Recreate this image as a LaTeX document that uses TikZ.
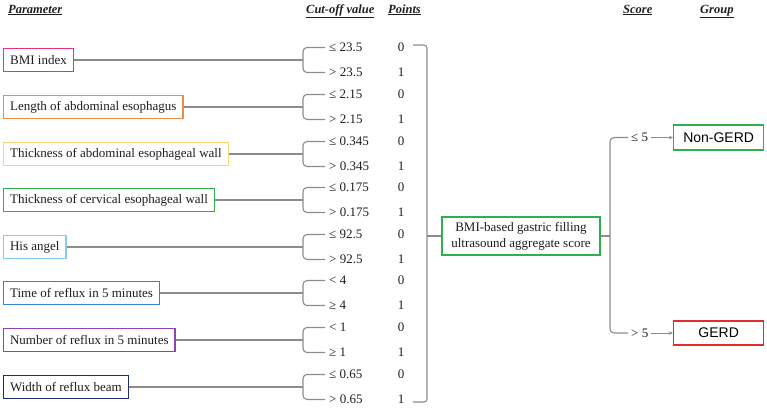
\documentclass[tikz,border=0pt]{standalone}
\usepackage{fontspec}
\setmainfont{Liberation Serif}
\newfontfamily\arialf{Liberation Sans}
\usetikzlibrary{arrows.meta}
\definecolor{pinkc}{HTML}{E6337F}
\definecolor{orangec}{HTML}{EE8A45}
\definecolor{yellowc}{HTML}{F5D77A}
\definecolor{greenc}{HTML}{2BB24C}
\definecolor{lightbluec}{HTML}{86CDEB}
\definecolor{bluec}{HTML}{2F86D0}
\definecolor{purplec}{HTML}{9143B5}
\definecolor{navyc}{HTML}{1F2D6E}
\definecolor{redc}{HTML}{E52B2B}
\definecolor{grayc}{HTML}{8C8C8C}
\definecolor{textc}{HTML}{1E1E1E}
\begin{document}
\begin{tikzpicture}[x=1pt,y=-1pt,
  parbox/.style={draw=#1, line width=1.2pt, fill=white, inner xsep=6.5pt, inner ysep=0pt,
    minimum height=23pt, anchor=west, text=textc, font=\fontsize{13}{15}\selectfont},
  lbl/.style={anchor=west, inner xsep=4pt, inner ysep=1pt, text=textc, font=\fontsize{13}{15}\selectfont},
  ptxt/.style={inner sep=1pt, text=textc, font=\fontsize{13}{15}\selectfont},
  conn/.style={draw=grayc, line width=1.1pt},
  hdr/.style={anchor=base west, inner sep=0pt, text=textc, font=\fontsize{12.5}{14}\selectfont\bfseries\itshape},
  grp/.style={draw=#1, line width=1.3pt, fill=white, anchor=west, minimum width=90pt, minimum height=24pt,
    inner sep=0pt, text=black, font=\arialf\fontsize{14}{16}\selectfont}
]
\useasboundingbox (0,0) rectangle (767,408);

% headers
\node[hdr] (h1) at (8,13) {\underline{Parameter}};
\node[hdr] (h2) at (306,13) {\underline{Cut-off value}};
\node[hdr] (h3) at (388,13) {\underline{Points}};
\node[hdr] (h4) at (623,13) {\underline{Score}};
\node[hdr] (h5) at (700,13) {\underline{Group}};

% parameter rows
\foreach \i/\c/\txt/\col/\u/\l in {
  1/60/BMI index/pinkc/≤ 23.5/> 23.5,
  2/107/Length of abdominal esophagus/orangec/≤ 2.15/> 2.15,
  3/154/Thickness of abdominal esophageal wall/yellowc/≤ 0.345/> 0.345,
  4/200/Thickness of cervical esophageal wall/greenc/≤ 0.175/> 0.175,
  5/247/His angel/lightbluec/≤ 92.5/> 92.5,
  6/293/Time of reflux in 5 minutes/bluec/< 4/≥ 4,
  7/340/Number of reflux in 5 minutes/purplec/< 1/≥ 1,
  8/387/Width of reflux beam/navyc/≤ 0.65/> 0.65}{
  \node[parbox=\col] (p\i) at (3,\c) {\txt};
  \node[lbl] (u\i) at (325,\c-12.5) {\u};
  \node[lbl] (l\i) at (325,\c+12.5) {\l};
  \node[ptxt] (qa\i) at (401,\c-12.5) {0};
  \node[ptxt] (qb\i) at (401,\c+12.5) {1};
  \coordinate (b\i) at (303,\c);
  \draw[conn] (p\i.east) -- (b\i);
  \draw[conn, rounded corners=4pt] (u\i.west) -| (b\i) |- (l\i.west);
}

% points bracket
\coordinate (pt1) at (413,45);
\coordinate (pt2) at (427,45);
\coordinate (pb2) at (427,402);
\coordinate (pb1) at (413,402);
\draw[conn, rounded corners=3pt] (pt1) -- (pt2) -- (pb2) -- (pb1);

% aggregate score
\node[draw=greenc, line width=1.3pt, fill=white, minimum width=158pt, minimum height=38pt, inner sep=0pt,
  align=center, text=textc, font=\fontsize{13}{16}\selectfont] (score) at (521,236)
  {BMI-based gastric filling\\ultrasound aggregate score};
\coordinate (pm) at (427,236);
\draw[conn] (pm) -- (score.west);

% score split
\coordinate (rb) at (610,236);
\draw[conn] (score.east) -- (rb);
\node[lbl, inner xsep=3pt] (s1) at (628,137.5) {≤ 5};
\node[lbl, inner xsep=3pt] (s2) at (628,333) {> 5};
\draw[conn, rounded corners=4pt] (s1.west) -| (rb) |- (s2.west);

\node[grp=greenc, minimum height=25pt] (ng) at (673,137.5) {Non-GERD};
\node[grp=redc] (gerd) at (673,333) {GERD};
\draw[draw=grayc, line width=0.9pt, -{Stealth[length=4pt,width=3.5pt]}] (s1.east) -- (ng.west);
\draw[draw=grayc, line width=0.9pt, -{Stealth[length=4pt,width=3.5pt]}] (s2.east) -- (gerd.west);
\end{tikzpicture}
\end{document}
